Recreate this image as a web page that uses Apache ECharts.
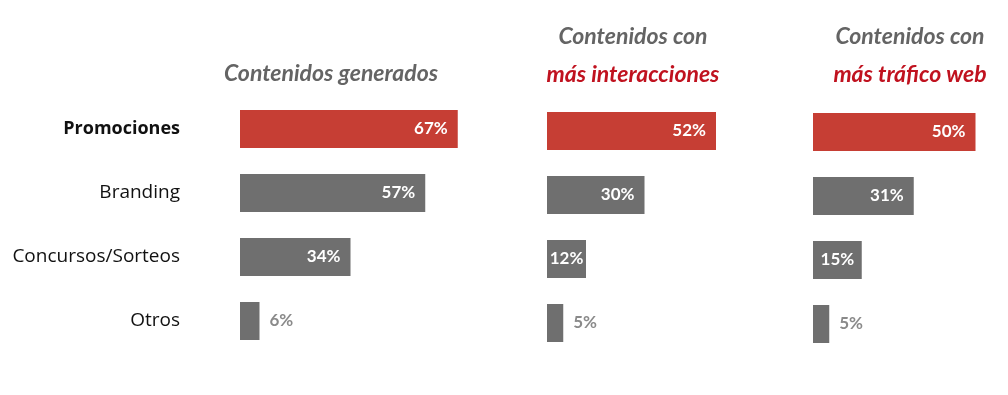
<!DOCTYPE html>
<html><head><meta charset="utf-8">
<script src="https://cdn.jsdelivr.net/npm/echarts@6/dist/echarts.min.js"></script>
<style>html,body{margin:0;padding:0;background:#fff}#c{width:1008px;height:395px}</style>
</head><body><div id="c"></div>
<script>
var categories = ['Promociones', 'Branding', 'Concursos/Sorteos', 'Otros'];
var generados = [67, 57, 34, 6];
var interacciones = [52, 30, 12, 5];
var trafico = [50, 31, 15, 5];
var panelTitles = [
  ['Contenidos generados'],
  ['Contenidos con', 'más interacciones'],
  ['Contenidos con', 'más tráfico web']
];

var RED = '#c63e34', GRAY = '#6f6f6f';
var PX = 3.25; // px per percent
var panels = [
  {left: 240, top: 97, max: 70, data: generados},
  {left: 547, top: 99, max: 60, data: interacciones},
  {left: 813, top: 100, max: 55, data: trafico}
];

var grids = [], xAxes = [], yAxes = [], series = [];
panels.forEach(function (p, i) {
  grids.push({left: p.left, top: p.top, width: p.max * PX, height: 256});
  xAxes.push({gridIndex: i, type: 'value', min: 0, max: p.max, show: false});
  yAxes.push({
    gridIndex: i, type: 'category', data: categories, inverse: true,
    axisLine: {show: false}, axisTick: {show: false},
    axisLabel: {
      show: i === 0, margin: 60, fontFamily: 'Open Sans', fontSize: 19, color: '#111',
      formatter: function (v, idx) { return idx === 0 ? '{b|' + v + '}' : v; },
      rich: {b: {fontFamily: 'Open Sans', fontSize: 18, fontWeight: 'bold', color: '#111'}}
    }
  });
  series.push({
    type: 'bar', xAxisIndex: i, yAxisIndex: i, barWidth: 38,
    data: p.data.map(function (v, k) {
      var lbl;
      if (v < 10) lbl = {position: 'right', distance: 10, color: '#8a8a8a'};
      else if (v < 20) lbl = {position: 'inside', color: '#fff'};
      else lbl = {position: 'insideRight', distance: 10, color: '#fff'};
      return {value: v, itemStyle: {color: k === 0 ? RED : GRAY}, label: lbl};
    }),
    label: {show: true, formatter: '{c}%', fontFamily: 'Lato', fontWeight: 'bold', fontSize: 17}
  });
});

var titles = [];
var titleCenters = [326, 628, 905];
panelTitles.forEach(function (lines, i) {
  lines.forEach(function (t, j) {
    var isRed = lines.length === 2 && j === 1;
    var y = lines.length === 1 ? 57 : (j === 0 ? 20 : 58);
    titles.push({
      text: t, left: titleCenters[i], top: y, textAlign: 'center',
      textStyle: {fontFamily: 'Lato', fontStyle: 'italic', fontWeight: 'bold', fontSize: 23, color: isRed ? '#c0121f' : '#646464'}
    });
  });
});

var chart = echarts.init(document.getElementById('c'));
chart.setOption({
  animation: false,
  title: titles,
  grid: grids, xAxis: xAxes, yAxis: yAxes, series: series
});
</script></body></html>
